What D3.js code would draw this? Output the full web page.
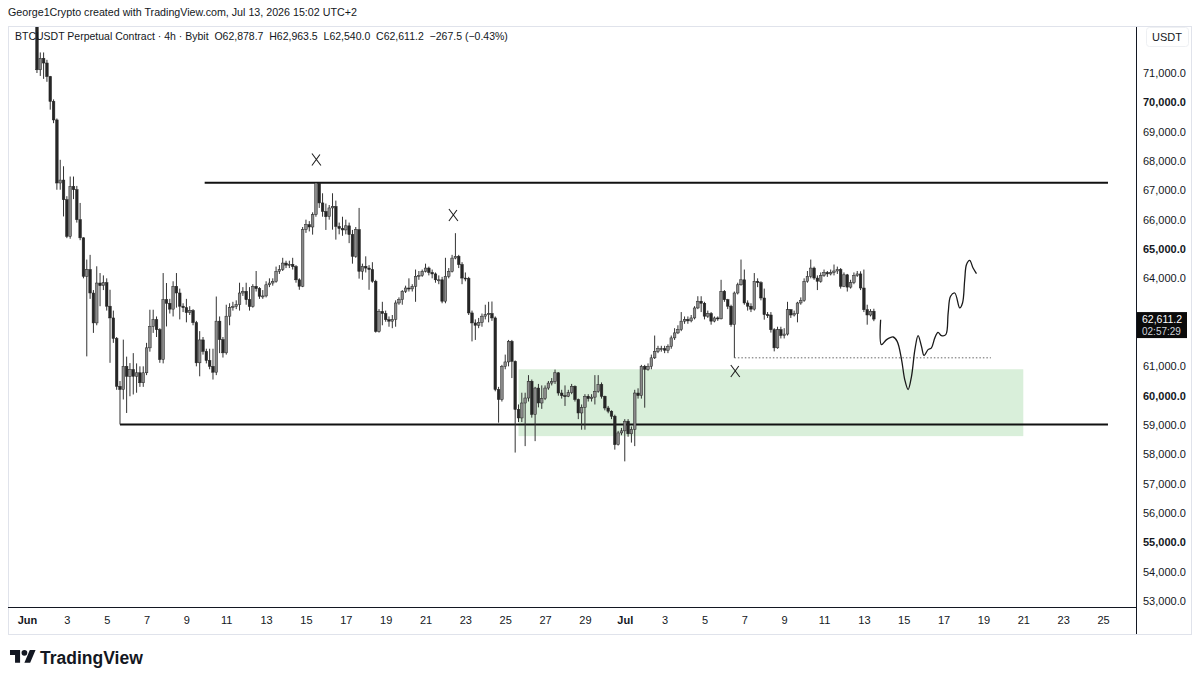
<!DOCTYPE html>
<html>
<head>
<meta charset="utf-8">
<script src="https://cdn.jsdelivr.net/npm/d3@7"></script>
<style>
body { margin: 0; background: #fff; }
svg text { font-family: "Liberation Sans", Arial, sans-serif; fill: #131722; }
</style>
</head>
<body>
<script>
//get data
var startTime = Date.UTC(2026, 5, 1, 12); // first visible 4h candle, Jun 1 12:00
var firstOpen = 72700;

var closes = [
  71110,71500,71340,70880,70030,69400,67250,67350,66680,65430,
  67130,67020,66000,65380,64070,64300,63500,62480,63840,63750,
  63850,63050,62650,61950,60320,60210,61000,60660,60890,60660,
  60780,60440,60780,61630,62360,62590,62250,61230,63270,63150,
  62950,63730,63500,63050,63000,62830,62900,62490,61120,61900,
  61510,61200,61000,60800,62540,61910,61460,62710,63000,63040,
  63100,63500,63560,63270,63040,63730,63650,63390,63400,63780,
  63840,63900,64240,64300,64520,64450,64480,64400,63950,63730,
  65660,65830,65750,66170,67250,66570,66280,66100,66400,66450,
  65770,65700,65650,65790,65490,64750,65660,64240,64410,64350,
  64300,63900,62190,62870,62800,62590,62540,62600,63160,63270,
  63560,63670,63640,63730,64070,64100,64240,64350,64200,64150,
  63950,63950,63220,64070,64240,64690,64750,64470,64010,64000,
  62820,62480,62400,62500,62710,62760,62800,62650,60210,59870,
  61000,61150,61850,61170,59530,59240,59750,59920,60490,59360,
  60260,59750,59900,60260,60430,60480,60780,60090,60000,59980,
  60100,60320,59870,59410,59600,59980,59900,59950,60150,60380,
  59980,59580,59470,59300,58330,58730,58800,59130,58700,58850,
  60090,60000,61000,60900,61000,61290,61510,61600,61600,61550,
  61680,61970,62140,62250,62540,62600,62550,62650,62990,63220,
  63150,62710,62800,62540,62650,62620,63560,63270,63050,62420,
  63500,63780,63950,63160,63050,62950,63900,63850,63330,62760,
  62750,62250,61630,62250,62050,62100,62930,62750,62800,63160,
  63250,63900,64070,64350,64010,63900,64100,64200,64150,64200,
  64250,64300,63730,64120,63700,63850,64100,64150,63670,62930,
  62750,62878.7,62611.2
];

var highs = [
  73200,71700,71700,71450,70900,70100,69450,68040,67820,66800,
  67470,67470,67150,66570,65400,64640,64800,63600,64410,64180,
  64100,64000,63610,62900,62000,60500,61910,61330,61110,61450,
  61100,61000,61000,61800,62930,62930,62700,62300,64180,63840,
  63300,63900,64180,63650,63150,63300,63050,62950,62550,62200,
  62000,61600,61600,61600,63380,62700,62000,63100,63150,63200,
  63250,63850,63700,63850,63700,63800,64250,63700,63600,63900,
  64000,64000,64400,64450,64700,64600,64600,64700,64450,64000,
  65750,66000,65950,66250,67260,67260,66900,66550,66500,66900,
  66650,65900,66100,66000,65900,65650,65750,66400,64500,64750,
  64450,64550,63950,62950,63200,62900,62700,62750,63250,63350,
  63600,63750,64000,63800,64300,64250,64300,64500,64400,64300,
  64200,64100,64050,64700,64350,64800,65540,64800,64550,64200,
  64050,62900,62600,62650,62800,63100,63200,63210,62700,60300,
  61050,61400,61900,61900,61200,59700,60100,60100,60700,60550,
  60300,60400,60350,60350,60500,60600,60890,60800,60200,60350,
  60200,60400,60350,59900,59700,60050,60050,60050,60700,60700,
  60450,60000,59650,59500,59350,58800,58900,59200,59200,58950,
  60200,60250,61050,61050,61100,61400,62050,61700,61700,61700,
  61750,62050,62300,62400,62850,62700,62700,62750,63050,63390,
  63390,63200,62900,62850,62700,62700,63950,63600,63300,63100,
  63550,63850,64640,64300,63250,63150,64180,64000,63900,63650,
  62850,62850,62300,62350,62350,62300,63200,62950,62900,63200,
  63350,64000,64250,64640,64400,64100,64200,64300,64250,64300,
  64470,64400,64350,64200,64150,63950,64200,64250,64240,64300,
  63100,62950,62963.5
];

var lows = [
  71000,70900,70800,70700,69750,69290,67020,67020,66110,65370,
  65350,66700,65900,65300,64000,61340,63300,62140,62400,63050,
  63600,62900,61120,61800,60200,59020,59870,59410,59980,60040,
  60100,60300,60300,60700,61500,62140,62000,61120,61100,62360,
  62800,62700,63000,62600,62850,62500,62750,62400,61000,60660,
  61400,61100,60900,60550,60700,61450,61300,61400,62400,62900,
  62950,62900,63400,63100,62900,63000,63550,63300,63300,63350,
  63700,63750,63850,64150,64250,64350,64350,64300,63850,63610,
  63700,65550,65600,65490,66100,66400,66100,65650,66000,65660,
  65320,65500,65450,65500,65200,64500,64700,63990,63950,64200,
  63610,63850,62150,62150,62400,62520,62350,62300,62350,63100,
  63100,63500,63550,63550,63200,63950,64050,64200,64100,64000,
  63850,63800,63150,63150,64000,64200,64650,64350,63800,63900,
  62750,61850,61900,62300,62350,62600,62500,62550,60150,59080,
  59800,60900,61000,60600,58060,59100,59100,58280,59800,59250,
  58450,59600,59550,59850,60200,60350,60400,60000,59900,59650,
  59950,60050,59800,59200,58840,58840,59800,59800,59700,60100,
  59900,59500,59400,59200,58160,58300,58650,57760,58600,58400,
  58280,59900,59900,59590,60850,60900,61250,61450,61500,61450,
  61450,61600,61900,62100,62200,62450,62450,62500,62600,62950,
  62850,62600,62650,62420,62500,62550,62600,63200,62950,62350,
  61290,63450,63750,63100,62900,62850,62900,63700,63250,62590,
  62650,62150,61510,61600,61950,61950,62050,62650,62700,62500,
  63100,63200,63850,64000,63950,63600,63850,64050,64050,64100,
  64100,64150,63650,63700,63550,63650,63800,64050,63600,62850,
  62420,62700,62540
];

var priceTicks = [53000,54000,55000,56000,57000,58000,59000,60000,61000,62000,
  63000,64000,65000,66000,67000,68000,69000,70000,71000];
var boldTicks = [55000,60000,65000,70000];

var dateTicks = ['2026-06-01','2026-06-03','2026-06-05','2026-06-07','2026-06-09','2026-06-11',
  '2026-06-13','2026-06-15','2026-06-17','2026-06-19','2026-06-21','2026-06-23','2026-06-25',
  '2026-06-27','2026-06-29','2026-07-01','2026-07-03','2026-07-05','2026-07-07','2026-07-09',
  '2026-07-11','2026-07-13','2026-07-15','2026-07-17','2026-07-19','2026-07-21','2026-07-23',
  '2026-07-25'];
var dateLabels = ['Jun','3','5','7','9','11','13','15','17','19','21','23','25','27','29',
  'Jul','3','5','7','9','11','13','15','17','19','21','23','25'];

// drawings on the chart
var resistance = {from: '2026-06-09T22:00Z', to: '2026-07-25T06:00Z', price: 67260};
var support = {from: '2026-06-05T16:00Z', to: '2026-07-25T06:00Z', price: 59020};
var zone = {from: '2026-06-25T16:00Z', to: '2026-07-21T00:00Z', top: 60900, bottom: 58620};
var sweepLine = {from: '2026-07-06T12:00Z', to: '2026-07-19T09:00Z', price: 61290};
var xMarks = [
  {t: '2026-06-15T12:00Z', price: 68050},
  {t: '2026-06-22T09:00Z', price: 66160},
  {t: '2026-07-06T12:30Z', price: 60840}
];
// hand drawn path, days after Jun 1
var projDay = [42.84,42.88,43.14,43.47,43.67,43.89,44.05,44.22,44.39,44.56,44.72,44.89,
  45.02,45.22,45.39,45.56,45.72,45.89,46.11,46.23,46.35,46.56,46.81,46.95,47.06,47.15,
  47.31,47.48,47.65];
var projPrice = [62590,61740,61910,62000,61850,61230,60550,60210,60660,61570,62050,61680,
  61370,61570,61630,61970,62160,62050,62080,62820,63390,63500,62990,63160,63950,64470,
  64610,64350,64160];

var candles = closes.map(function(c, i) {
  var o = i === 0 ? firstOpen : closes[i - 1];
  return {
    t: new Date(startTime + i * 4 * 3600e3),
    o: o, c: c,
    h: Math.max(highs[i], o, c),
    l: Math.min(lows[i], o, c)
  };
});
var last = candles[candles.length - 1];

//do stuff with data
var fmt = d3.format(',.1f');

var svg = d3.select('body')
  .append('svg')
  .attr('width', 1200)
  .attr('height', 681);

var x = d3.scaleUtc()
  .domain([new Date('2026-06-01T00:00Z'), new Date('2026-07-25T00:00Z')])
  .range([27, 1103]);
var y = d3.scaleLinear()
  .domain([53000, 71000])
  .range([601, 73]);

svg.append('clipPath').attr('id', 'pane')
  .append('rect').attr('x', 8).attr('y', 27).attr('width', 1128).attr('height', 580);

// frame
svg.append('rect')
  .attr('x', 8.5).attr('y', 26.5).attr('width', 1183).attr('height', 608)
  .attr('fill', 'none').attr('stroke', '#e0e3eb');

var pane = svg.append('g').attr('clip-path', 'url(#pane)');

pane.append('rect')
  .attr('x', x(new Date(zone.from)))
  .attr('y', y(zone.top))
  .attr('width', x(new Date(zone.to)) - x(new Date(zone.from)))
  .attr('height', y(zone.bottom) - y(zone.top))
  .attr('fill', '#d9efda');

pane.selectAll('line.level')
  .data([resistance, support])
  .enter()
  .append('line')
  .attr('class', 'level')
  .attr('x1', function(d) { return x(new Date(d.from)); })
  .attr('x2', function(d) { return x(new Date(d.to)); })
  .attr('y1', function(d) { return y(d.price); })
  .attr('y2', function(d) { return y(d.price); })
  .attr('stroke', '#111')
  .attr('stroke-width', 2);

pane.append('line')
  .attr('x1', x(new Date(sweepLine.from)))
  .attr('x2', x(new Date(sweepLine.to)))
  .attr('y1', y(sweepLine.price))
  .attr('y2', y(sweepLine.price))
  .attr('stroke', '#666')
  .attr('stroke-width', 1)
  .attr('stroke-dasharray', '1.5,2');

// candles
var cg = pane.append('g');
cg.selectAll('line.wick')
  .data(candles)
  .enter()
  .append('line')
  .attr('class', 'wick')
  .attr('x1', function(d) { return x(d.t); })
  .attr('x2', function(d) { return x(d.t); })
  .attr('y1', function(d) { return y(d.h); })
  .attr('y2', function(d) { return y(d.l); })
  .attr('stroke', '#333')
  .attr('stroke-width', 1);

cg.selectAll('rect.body')
  .data(candles)
  .enter()
  .append('rect')
  .attr('class', 'body')
  .attr('x', function(d) { return x(d.t) - 1.3; })
  .attr('width', 2.6)
  .attr('y', function(d) { return y(Math.max(d.o, d.c)); })
  .attr('height', function(d) { return Math.max(1, Math.abs(y(d.o) - y(d.c))); })
  .attr('fill', function(d) { return d.c >= d.o ? '#8a8a8a' : '#262626'; })
  .attr('stroke', '#222')
  .attr('stroke-width', 0.5);

// X marks
xMarks.forEach(function(m) {
  var cx = x(new Date(m.t)), cy = y(m.price);
  pane.append('path')
    .attr('d', 'M' + (cx - 4) + ',' + (cy - 6) + 'L' + (cx + 5) + ',' + (cy + 6) +
      'M' + (cx + 4) + ',' + (cy - 5) + 'L' + (cx - 4) + ',' + (cy + 6))
    .attr('fill', 'none')
    .attr('stroke', '#222')
    .attr('stroke-width', 1.1);
});

// projected path
var proj = projDay.map(function(d, i) {
  return {t: new Date(Date.UTC(2026, 5, 1) + d * 864e5), p: projPrice[i]};
});
pane.append('path')
  .datum(proj)
  .attr('d', d3.line()
    .x(function(d) { return x(d.t); })
    .y(function(d) { return y(d.p); })
    .curve(d3.curveCatmullRom.alpha(0.5)))
  .attr('fill', 'none')
  .attr('stroke', '#1a1a1a')
  .attr('stroke-width', 1.3);

// axes, the label under the price box is left out as TradingView hides it
var ly = y(last.c);
var yAxis = svg.append('g')
  .attr('transform', 'translate(1136,0)')
  .call(d3.axisRight(y)
    .tickValues(priceTicks.filter(function(p) { return Math.abs(y(p) - ly) > 22; }))
    .tickSize(0).tickPadding(7).tickFormat(fmt));
yAxis.select('.domain').remove();
yAxis.selectAll('text')
  .attr('font-size', 11)
  .attr('font-family', null)
  .attr('fill', '#131722')
  .attr('font-weight', function(d) { return boldTicks.indexOf(d) >= 0 ? 700 : 400; });

var xAxis = svg.append('g')
  .attr('transform', 'translate(0,607)')
  .call(d3.axisBottom(x)
    .tickValues(dateTicks.map(function(d) { return new Date(d + 'T00:00Z'); }))
    .tickSize(0).tickPadding(9)
    .tickFormat(function(d, i) { return dateLabels[i]; }));
xAxis.select('.domain').remove();
xAxis.selectAll('text')
  .attr('font-size', 11)
  .attr('font-family', null)
  .attr('fill', '#131722')
  .attr('font-weight', function(d, i) { return isNaN(+dateLabels[i]) ? 700 : 400; });

svg.append('line')
  .attr('x1', 8).attr('x2', 1136).attr('y1', 607.5).attr('y2', 607.5)
  .attr('stroke', '#131722');
svg.append('line')
  .attr('x1', 1136.5).attr('x2', 1136.5).attr('y1', 27).attr('y2', 634)
  .attr('stroke', '#131722');

// currency box
svg.append('rect')
  .attr('x', 1146.5).attr('y', 27.5).attr('width', 42).attr('height', 19).attr('rx', 3)
  .attr('fill', '#fff').attr('stroke', '#eef0f3');
svg.append('text')
  .attr('x', 1167).attr('y', 41).attr('text-anchor', 'middle')
  .attr('font-size', 11).text('USDT');

// last price label
svg.append('rect')
  .attr('x', 1137).attr('y', ly - 7).attr('width', 50).attr('height', 26)
  .attr('fill', '#0b0b0b');
svg.append('text')
  .attr('x', 1142).attr('y', ly + 3.5).attr('font-size', 10.5)
  .style('fill', '#fff').text(fmt(last.c));
svg.append('text')
  .attr('x', 1142).attr('y', ly + 16).attr('font-size', 10)
  .style('fill', '#d1d4dc').text('02:57:29');

// header + legend
svg.append('text')
  .attr('x', 8).attr('y', 16).attr('font-size', 10.7)
  .text('George1Crypto created with TradingView.com, Jul 13, 2026 15:02 UTC+2');

var chg = last.c - last.o;
svg.append('text')
  .attr('x', 15).attr('y', 40).attr('font-size', 10.5)
  .attr('xml:space', 'preserve')
  .text('BTCUSDT Perpetual Contract \u00b7 4h \u00b7 Bybit  O' + fmt(last.o) +
    '  H' + fmt(last.h) + '  L' + fmt(last.l) + '  C' + fmt(last.c) +
    '  \u2212' + fmt(Math.abs(chg)) + ' (\u2212' + (Math.abs(chg) / last.o * 100).toFixed(2) + '%)');

// logo
var logo = svg.append('g').attr('transform', 'translate(10,647) scale(0.72)');
logo.append('path')
  .attr('d', 'M14 22H7V11H0V4h14v18zM28 22h-8l7.5-18h8L28 22z')
  .attr('fill', '#131722');
logo.append('circle').attr('cx', 20).attr('cy', 8).attr('r', 4).attr('fill', '#131722');
svg.append('text')
  .attr('x', 40).attr('y', 664)
  .attr('font-size', 17.5).attr('font-weight', 600)
  .text('TradingView');
</script>
</body>
</html>
